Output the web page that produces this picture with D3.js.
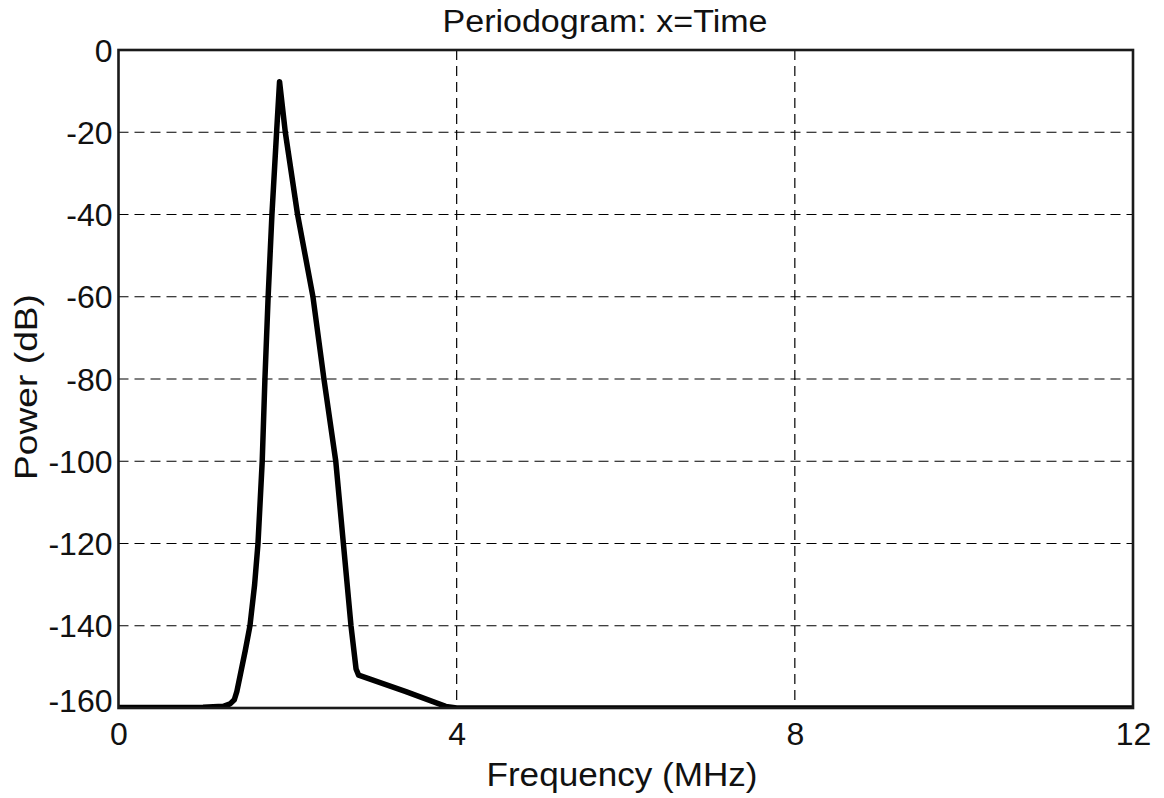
<!DOCTYPE html>
<html>
<head>
<meta charset="utf-8">
<script src="https://cdn.jsdelivr.net/npm/d3@7"></script>
<style>
  html, body { margin: 0; padding: 0; background: #fff; }
  svg { display: block; }
  text { font-family: "Liberation Sans", Arial, sans-serif; fill: #111; }
</style>
</head>
<body>
<svg id="chart" width="1164" height="798"></svg>
<script>
// ---- data ----
const freqMHz = [0, 0.5, 1.0, 1.24, 1.32, 1.37, 1.40, 1.44, 1.50, 1.555, 1.61, 1.65, 1.70, 1.732, 1.77, 1.815, 1.87, 1.905,
                 1.973, 2.118, 2.30, 2.43, 2.57, 2.66, 2.75, 2.81, 2.84, 3.4, 3.87, 4.0, 12];
const powerDb = [-159.9, -159.9, -159.8, -159.6, -159.0, -158.0, -156, -152, -146, -140, -130, -120, -100, -80, -60, -40, -20, -7.7,
                 -20, -40, -60, -80, -100, -120, -140, -150.5, -152, -156, -159.6, -160, -160];
const xTicks = [0, 4, 8, 12];
const yTicks = [0, -20, -40, -60, -80, -100, -120, -140, -160];
const titleText = "Periodogram: x=Time";
const xLabelText = "Frequency (MHz)";
const yLabelText = "Power (dB)";

// ---- layout ----
const svg = d3.select("#chart");
const L = 118.5, R = 1133, T = 50, B = 708;
const x = d3.scaleLinear().domain([0, 12]).range([L, R]);
const y = d3.scaleLinear().domain([-160, 0]).range([B, T]);
const fmt = d => String(d);

// clip
svg.append("defs").append("clipPath").attr("id", "plotclip")
  .append("rect").attr("x", L).attr("y", T).attr("width", R - L).attr("height", B - T);

// grid
const grid = svg.append("g");
grid.selectAll("line.h").data(yTicks.filter(d => d !== 0 && d !== -160)).enter().append("line")
  .attr("x1", L).attr("x2", R).attr("y1", d => y(d)).attr("y2", d => y(d))
  .attr("stroke", "#000").attr("stroke-width", 1.2).attr("stroke-dasharray", "10,6");
grid.selectAll("line.v").data(xTicks.filter(d => d !== 0 && d !== 12)).enter().append("line")
  .attr("x1", d => x(d)).attr("x2", d => x(d)).attr("y1", T).attr("y2", B)
  .attr("stroke", "#000").attr("stroke-width", 1.2).attr("stroke-dasharray", "10,6");

// curve
const pts = freqMHz.map((f, i) => [f, powerDb[i]]);
svg.append("path")
  .attr("clip-path", "url(#plotclip)")
  .attr("d", d3.line().x(d => x(d[0])).y(d => y(d[1])).curve(d3.curveLinear)(pts))
  .attr("fill", "none").attr("stroke", "#000").attr("stroke-width", 5.5)
  .attr("stroke-linejoin", "round").attr("stroke-linecap", "round");

// frame
svg.append("rect").attr("x", L).attr("y", T).attr("width", R - L).attr("height", B - T)
  .attr("fill", "none").attr("stroke", "#1a1a1a").attr("stroke-width", 2.6);

// axes (labels only, no tick marks)
const xAxis = d3.axisBottom(x).tickValues(xTicks).tickSize(0).tickPadding(0).tickFormat(fmt);
const gx = svg.append("g").attr("transform", `translate(0,${B})`).call(xAxis);
gx.select(".domain").remove();
gx.selectAll("text").attr("font-size", 32).attr("dy", null).attr("y", 37)
  .style("font-family", '"Liberation Sans", Arial, sans-serif').attr("fill", "#111");

const yAxis = d3.axisLeft(y).tickValues(yTicks).tickSize(0).tickPadding(6).tickFormat(fmt);
const gy = svg.append("g").attr("transform", `translate(${L},0)`).call(yAxis);
gy.select(".domain").remove();
gy.selectAll("text").attr("font-size", 32).attr("dy", "0.35em")
  .style("font-family", '"Liberation Sans", Arial, sans-serif').attr("fill", "#111")
  .attr("y", d => d === -160 ? -8 : 0);

// title and labels
svg.append("text").attr("x", 605).attr("y", 32).attr("text-anchor", "middle")
  .attr("font-size", 31).attr("textLength", 325).attr("lengthAdjust", "spacingAndGlyphs").text(titleText);
svg.append("text").attr("x", 622).attr("y", 786).attr("text-anchor", "middle")
  .attr("font-size", 33).attr("textLength", 271).attr("lengthAdjust", "spacingAndGlyphs").text(xLabelText);
svg.append("text").attr("transform", "translate(37,387) rotate(-90)").attr("text-anchor", "middle")
  .attr("font-size", 32).attr("textLength", 186).attr("lengthAdjust", "spacingAndGlyphs").text(yLabelText);
</script>
</body>
</html>
